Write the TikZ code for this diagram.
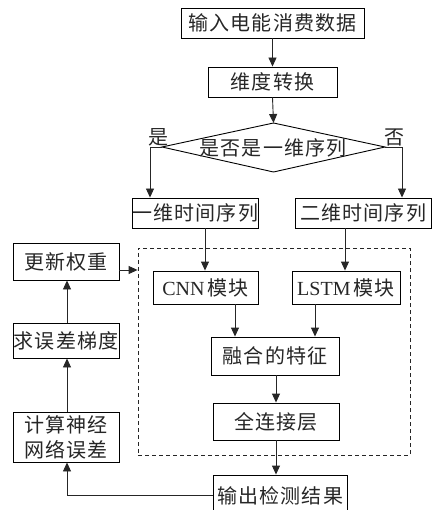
\documentclass[tikz,border=0pt]{standalone}
\usepackage{fontspec}
\setmainfont{Liberation Serif}
\newfontfamily\cjk[LetterSpace=6]{Noto Sans CJK SC}
\newfontfamily\lat{Liberation Serif}
\usetikzlibrary{arrows.meta}
\tikzset{
  box/.style={draw=black, line width=0.9pt, inner sep=0pt, align=center,
              font=\fontsize{20}{25}\selectfont\cjk, text=black!85},
  conn/.style={line width=0.9pt, draw=black!85},
  arr/.style={conn, -{Triangle[length=9pt,width=8pt]}},
  lbl/.style={inner sep=0pt, font=\fontsize{20}{23}\selectfont\cjk, text=black!85}
}
\begin{document}
\begin{tikzpicture}[x=1pt,y=-1pt]
\useasboundingbox (0,0) rectangle (432,510);
\clip (0,0) rectangle (432,510);

% main chain
\node[box, minimum width=183pt, minimum height=30pt] (in)  at (272.5,23) {输入电能消费数据};
\node[box, minimum width=129pt, minimum height=30pt] (dim) at (272.5,82) {维度转换};

% decision diamond
\coordinate (dt) at (273.5,123);
\coordinate (db) at (273.5,172);
\coordinate (dl) at (162,147);
\coordinate (dr) at (385,147);
\draw[line width=0.9pt] (dt) -- (dr) -- (db) -- (dl) -- cycle;
\node[lbl] (q) at (273,148) {是否是一维序列};
\node[lbl] (yes) at (158,137) {是};
\node[lbl] (no)  at (394,137) {否};

\node[box, minimum width=126pt, minimum height=30pt] (one) at (195,213) {一维时间序列};
\node[box, minimum width=136pt, minimum height=30pt] (two) at (363,213) {二维时间序列};

% model block
\node[draw=black!85, dashed, line width=0.8pt, dash pattern=on 4pt off 3pt,
      minimum width=272pt, minimum height=207pt, inner sep=0pt] (model) at (274,351.5) {};
\node[box, minimum width=105pt, minimum height=33pt] (cnn)  at (205.5,287.5) {\lat CNN\hspace{3pt}\cjk 模块};
\node[box, minimum width=108pt, minimum height=33pt] (lstm) at (346,287.5) {\lat LSTM\hspace{3pt}\cjk 模块};
\node[box, minimum width=128pt, minimum height=38pt] (fuse) at (275,356) {融合的特征};
\node[box, minimum width=126pt, minimum height=37pt] (fc)   at (276,421.5) {全连接层};
\node[box, minimum width=134pt, minimum height=42pt] (out)  at (280,496) {输出检测结果};

% training loop
\node[box, minimum width=106pt, minimum height=37pt] (upd)  at (66,261.5) {更新权重};
\node[box, minimum width=106pt, minimum height=35pt] (grad) at (66,340.5) {求误差梯度};
\node[box, minimum width=106pt, minimum height=50pt] (err)  at (66,437) {计算神经\\网络误差};

% connectors
\draw[arr] (in.south) -- (dim.north);
\draw[arr] (dim.south) -- (dt);
\draw[arr] (dl) -- (150,147) -- (one.north -| 150,0);
\draw[arr] (dr) -- (402,147) -- (two.north -| 402,0);
\draw[arr] (one.south -| 205,0) -- (cnn.north -| 205,0);
\draw[arr] (two.south -| 345,0) -- (lstm.north -| 345,0);
\draw[arr] (cnn.south -| 235,0) -- (fuse.north -| 235,0);
\draw[arr] (lstm.south -| 315,0) -- (fuse.north -| 315,0);
\draw[arr] (fuse.south -| 276,0) -- (fc.north -| 276,0);
\draw[arr] (fc.south -| 276,0) -- (out.north -| 276,0);
\draw[arr] (out.west |- 0,495) -- (67,495) -- (err.south -| 67,0);
\draw[arr] (err.north -| 67,0) -- (grad.south -| 67,0);
\draw[arr] (grad.north -| 67,0) -- (upd.south -| 67,0);
\draw[arr] (upd.east |- 0,270) -- (model.west |- 0,270);
\end{tikzpicture}
\end{document}
